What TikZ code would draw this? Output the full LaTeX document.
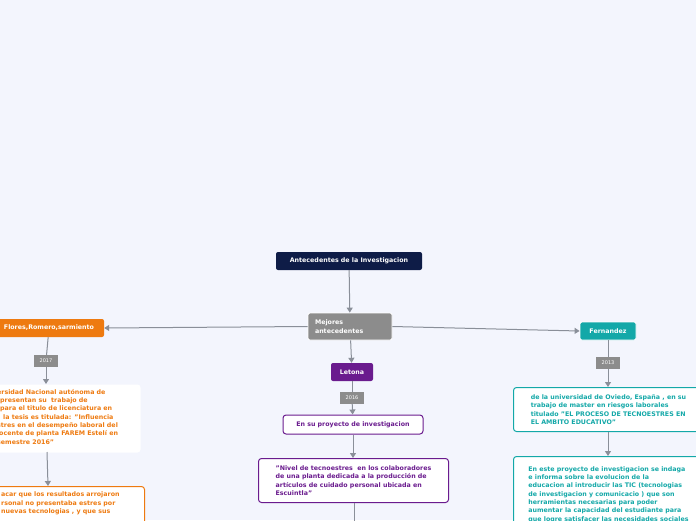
\documentclass[tikz,border=0pt]{standalone}
\usepackage{fontspec}
\setmainfont{DejaVu Sans}
\usetikzlibrary{arrows.meta}
\definecolor{bg}{HTML}{F3F5FD}
\definecolor{navy}{HTML}{0E1C47}
\definecolor{gr}{HTML}{8C8C8C}
\definecolor{org}{HTML}{EE7A10}
\definecolor{pur}{HTML}{6A1B8E}
\definecolor{teal}{HTML}{13A8A8}
\definecolor{edge}{HTML}{8A8F99}
\tikzset{x=1pt,y=-1pt,
 f/.style={font=\fontsize{6.3}{8.3}\selectfont\bfseries},
 solid box/.style={f,rounded corners=2pt,text=white,inner sep=0pt},
 yr/.style={fill=gr,text=white,font=\fontsize{5}{6}\selectfont,inner sep=0pt,minimum width=24,minimum height=12},
 tbox/.style={f,rounded corners=3pt,fill=white,line width=1pt,align=left,inner sep=0pt,anchor=north west},
 con/.style={edge,line width=1pt,-{Triangle[length=5pt,width=6pt]}},
 ln/.style={edge,line width=1pt}}
\begin{document}
\begin{tikzpicture}
\fill[bg] (0,0) rectangle (696,520);
\useasboundingbox (0,0) rectangle (696,520);
\clip (0,0) rectangle (696,520);
\node[solid box,fill=navy,minimum width=146,minimum height=18] (t) at (349,261) {Antecedentes de la Investigacion};
\node[solid box,fill=gr,draw=white,line width=0.8pt,minimum width=84,minimum height=27,align=left,text width=70] (m) at (350,326.5) {Mejores\\antecedentes};
\node[solid box,fill=org,minimum width=110,minimum height=18] (fl) at (49,328) {Flores,Romero,sarmiento};
\node[yr] (y17) at (46,361) {2017};
\node[tbox,draw=none,text=org,minimum width=150,minimum height=68] (o1) at (-10,384) {};
\node[f,text=org,align=left,anchor=north west,inner sep=0pt] (o1t) at (-3,389) {ersidad Nacional autónoma de\\\hspace*{3pt}presentan su\ \ trabajo de\\\hspace*{3pt}para el titulo de licenciatura en\\\hspace*{6pt}la tesis es titulada: "Influencia\\stres en el desempeño laboral del\\\hspace*{2pt}ocente de planta FAREM Estelí en\\ semestre 2016"};
\node[tbox,draw=org,minimum width=154,minimum height=50] (o2) at (-10,486) {};
\node[f,text=org,align=left,anchor=north west,inner sep=0pt] at (1,492) {acar que los resultados arrojaron\\rsonal no presentaba estres por\\ nuevas tecnologias , y que sus};
\node[solid box,fill=pur,minimum width=42,minimum height=18] (le) at (352,372) {Letona};
\node[yr] (y16) at (352,398) {2016};
\node[tbox,draw=pur,text=pur,anchor=center,minimum width=140,minimum height=19,align=center] (p1) at (353,424.5) {En su proyecto de investigacion};
\node[tbox,draw=pur,text=pur,minimum width=190,minimum height=44,inner xsep=7pt,inner ysep=5pt,anchor=north west] (p2) at (258,458) {"Nivel de tecnoestres\ \ en los colaboradores\\de una planta dedicada a la producción de\\artículos de cuidado personal ubicada en\\Escuintla"};
\coordinate (pe) at (354,522);
\node[solid box,fill=teal,draw=white,line width=0.8pt,minimum width=56,minimum height=18] (fe) at (608,331) {Fernandez};
\node[yr] (y13) at (608,363) {2013};
\node[tbox,draw=teal,text=teal,minimum width=190,minimum height=44,inner xsep=7pt,inner ysep=5pt] (c1) at (513,387) {de la universidad de Oviedo, España , en su\\trabajo de master en riesgos laborales\\titulado "EL PROCESO DE TECNOESTRES EN\\EL AMBITO EDUCATIVO"};
\node[tbox,draw=teal,text=teal,minimum width=190,minimum height=76,inner xsep=7pt,inner ysep=5pt] (c2) at (513,456) {En este proyecto de investigacion se indaga\\e informa sobre la evolucion de la\\educacion al introducir las TIC (tecnologias\\de investigacion y comunicacio ) que son\\herramientas necesarias para poder\\aumentar la capacidad del estudiante para\\que logre satisfacer las necesidades sociales};
\draw[con] (t) -- (m);
\draw[con] (m.west) -- (fl.east);
\draw[con] (m.east) -- (fe.west);
\draw[con] (m) -- (le);
\draw[ln] (fl) -- (y17);
\draw[con] (y17) -- (46,384);
\draw[con] (47,452) -- (48,486);
\draw[ln] (le) -- (y16);
\draw[con] (y16) -- (p1);
\draw[con] (p1) -- (p2.north -| p1);
\draw[ln] (p2.south -| pe) -- (pe);
\draw[ln] (fe) -- (y13);
\draw[con] (y13) -- (c1.north -| y13);
\draw[con] (c1.south -| y13) -- (c2.north -| y13);
\end{tikzpicture}
\end{document}
